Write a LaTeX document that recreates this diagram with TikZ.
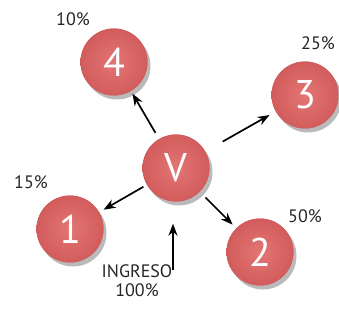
\documentclass[tikz,border=0pt]{standalone}
\usepackage{fontspec}
\setmainfont{PT Sans}
\usetikzlibrary{shadows,arrows.meta}
\definecolor{ballred}{RGB}{210,92,92}
\definecolor{balllight}{RGB}{226,118,116}
\tikzset{
  ball/.style={circle, minimum size=67pt, inner sep=0pt, fill=ballred,
    inner color=balllight, outer color=ballred,
    drop shadow={shadow xshift=3pt, shadow yshift=-4pt, opacity=0.45, fill=black!60},
    text=white, font=\fontsize{40}{40}\selectfont},
  pct/.style={font=\fontsize{18}{19}\selectfont, text=black!85},
  arr/.style={-{Stealth[length=12pt,width=9pt]}, line width=1.7pt, black}
}
\begin{document}
\begin{tikzpicture}[x=1pt,y=-1pt]
\useasboundingbox (0,0) rectangle (339,328);
\node[ball] (n4) at (114,62) {4};
\node[ball] (n3) at (305,95) {3};
\node[ball] (v) at (176,168) {V};
\node[ball] (n1) at (70,229) {1};
\node[ball] (n2) at (260,252) {2};
\node[pct] (p4) at (73,19) {10\%};
\node[pct] (p3) at (318,43) {25\%};
\node[pct] (p1) at (31,182) {15\%};
\node[pct] (p2) at (305,216) {50\%};
\node[pct, align=center] (ing) at (137,281) {INGRESO\\100\%};
\coordinate (ingtop) at (173,270);
\draw[arr, shorten <=7pt, shorten >=3pt] (v) -- (n4);
\draw[arr, shorten <=20pt, shorten >=7pt] (v) -- (n3);
\draw[arr, shorten <=4pt, shorten >=5pt] (v) -- (n1);
\draw[arr, shorten <=8pt, shorten >=5pt] (v) -- (n2);
\draw[arr, shorten >=22pt] (ingtop) -- (ingtop |- v.south);
\end{tikzpicture}
\end{document}
